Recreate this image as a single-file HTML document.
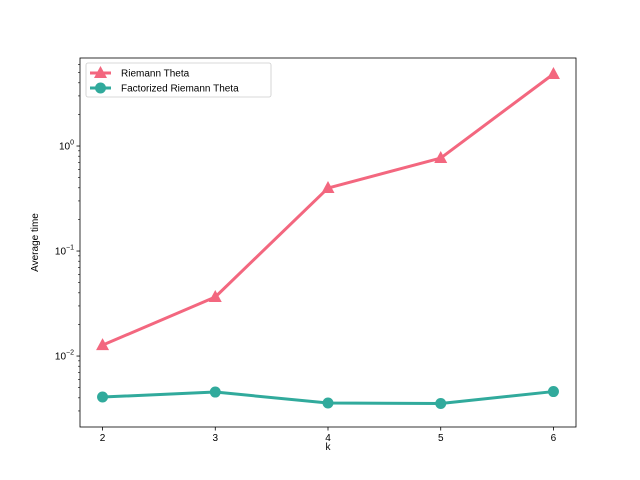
<!DOCTYPE html>
<html><head><meta charset="utf-8"><style>
body{margin:0;background:#fff}
svg{display:block;font-family:"Liberation Sans","DejaVu Sans",sans-serif}
</style></head><body>
<svg id="chart" width="640" height="480">
<rect x="0" y="0" width="640" height="480" fill="#fff"/>
</svg>
<script>
const categories=[2,3,4,5,6];
const riemannTheta=[0.0127,0.0365,0.398,0.768,4.85];
const factorizedTheta=[0.00407,0.00454,0.00357,0.00353,0.00459];
const yTickExps=[-2,-1,0];
const svg=document.getElementById('chart');
const NS='http://www.w3.org/2000/svg';
const L=80,R=576,T=58,B=427;
const xmin=1.8,xmax=6.2,lymin=Math.log10(0.00211),lymax=Math.log10(6.89);
function xs(v){return L+(v-xmin)/(xmax-xmin)*(R-L);}
function ys(v){return B-(Math.log10(v)-lymin)/(lymax-lymin)*(B-T);}
function el(t,a,p){const e=document.createElementNS(NS,t);for(const k in a)e.setAttribute(k,a[k]);(p||svg).appendChild(e);return e;}
const gx=el('g',{});


categories.forEach(c=>{const x=xs(c);
el('line',{x1:x,x2:x,y1:B,y2:B+3.5,stroke:'#000','stroke-width':0.8},gx);
const t=el('text',{x:x,y:B+14,'font-size':10,'text-anchor':'middle'},gx);t.textContent=c;

});
const xl=el('text',{x:(L+R)/2,y:450,'font-size':10,'text-anchor':'middle'});xl.textContent='k';


const gy=el('g',{});


for(let e=-3;e<=1;e++){for(let m=1;m<10;m++){const v=m*Math.pow(10,e);const y=ys(v);if(y<T-0.5||y>B+0.5)continue;
el('line',{x1:L,x2:L-(m==1?3.5:2),y1:y,y2:y,stroke:'#000','stroke-width':m==1?0.8:0.6},gy);}}
yTickExps.forEach(e=>{const y=ys(Math.pow(10,e));
const t=el('text',{x:L-6,y:y+3.5,'font-size':10,'text-anchor':'end'},gy);
t.innerHTML='10<tspan dy="-5" font-size="7">'+(e<0?'\u2212'+(-e):e)+'</tspan>';

});
const yl=el('text',{x:0,y:0,'font-size':10,'text-anchor':'middle',transform:'translate(38,'+((T+B)/2)+') rotate(-90)'});yl.textContent='Average time';


function series(vals,color,marker,name){const g=el('g',{});


el('polyline',{points:vals.map((v,i)=>xs(categories[i])+','+ys(v)).join(' '),fill:'none',stroke:color,'stroke-width':3,'stroke-linejoin':'round'},g);
vals.forEach((v,i)=>{const x=xs(categories[i]),y=ys(v);let m;
if(marker=='tri')m=el('polygon',{points:`${x},${y-7} ${x-6.5},${y+5} ${x+6.5},${y+5}`,fill:color},g);
else m=el('circle',{cx:x,cy:y,r:5.5,fill:color},g);

});}
series(riemannTheta,'#f3677f','tri','riemann-theta-series');
series(factorizedTheta,'#31aa9c','circ','factorized-riemann-theta-series');
const fr=el('rect',{x:L,y:T,width:R-L,height:B-T,fill:'none',stroke:'#000','stroke-width':0.8});


const lg=el('g',{});


el('rect',{x:86,y:63,width:185,height:34,rx:2,fill:'#fff',stroke:'#ccc','stroke-width':0.8},lg);
[['Riemann Theta','#f3677f','tri',73],['Factorized Riemann Theta','#31aa9c','circ',88]].forEach(([n,c,m,y])=>{
const e=el('g',{},lg);


el('line',{x1:90,x2:111,y1:y,y2:y,stroke:c,'stroke-width':3},e);
if(m=='tri')el('polygon',{points:`100.5,${y-7} 94,${y+5} 107,${y+5}`,fill:c},e);else el('circle',{cx:100.5,cy:y,r:5.5,fill:c},e);
const t=el('text',{x:121,y:y+3.5,'font-size':10},e);t.textContent=n;});
</script>
</body></html>
